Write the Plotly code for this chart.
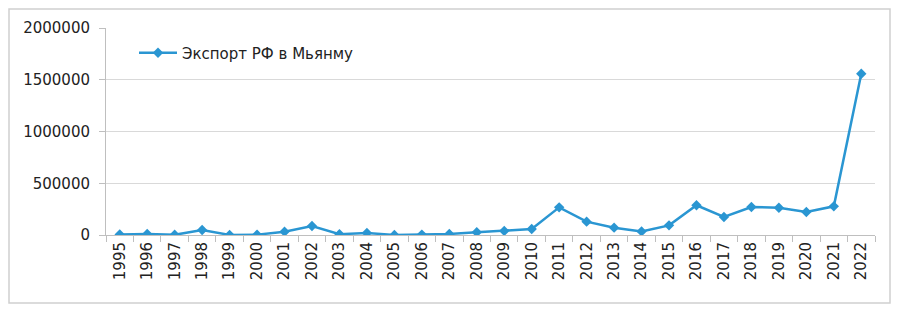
import plotly.graph_objects as go

years = [str(y) for y in range(1995, 2023)]
export_values = [5000, 10000, 2000, 48000, 1000, 3000, 32000, 87000, 8000, 19000,
                 1000, 4000, 10000, 26000, 39000, 58000, 267000, 129000, 71000, 35000,
                 93000, 287000, 174000, 270000, 264000, 222000, 277000, 1558000]
series_name = "Экспорт РФ в Мьянму"
y_ticks = [0, 500000, 1000000, 1500000, 2000000]

# page body has an 8px default margin; figure coordinates = page coordinates - 8
OFF = 8
W, H = 883, 297
L = 106 - OFF
T = 28 - OFF
plot_right = 875 - OFF
plot_bottom = 235 - OFF
R = W - plot_right
B = H - plot_bottom
pw, ph = W - L - R, H - T - B

def px_x(x):
    return (x - OFF - L) / pw

def px_y(y):
    return (plot_bottom - (y - OFF)) / ph

fig = go.Figure()
fig.add_trace(go.Scatter(
    x=years, y=export_values, name=series_name, mode="lines+markers",
    line=dict(color="#2a96d2", width=2.5),
    marker=dict(symbol="diamond", size=8, color="#2a96d2"),
))

fig.update_layout(
    width=W, height=H,
    margin=dict(l=L, r=R, t=T, b=B, autoexpand=False),
    paper_bgcolor="white", plot_bgcolor="white",
    font=dict(family="DejaVu Sans", size=15, color="#222222"),
    showlegend=True,
    legend=dict(x=px_x(134), y=px_y(53), xanchor="left", yanchor="middle",
                itemwidth=38,
                bgcolor="rgba(0,0,0,0)", font=dict(family="DejaVu Sans", size=15)),
    xaxis=dict(type="category", range=[-0.5, 27.5], tickangle=-90,
               showline=True, linecolor="#bfbfbf", linewidth=1,
               ticks="outside", ticklen=6, tickcolor="#bfbfbf", tickson="boundaries",
               showgrid=False, tickfont=dict(size=15)),
    yaxis=dict(range=[0, 2000000], tickvals=y_ticks, ticktext=[str(v) for v in y_ticks],
               showline=True, linecolor="#bfbfbf", linewidth=1,
               ticks="outside", ticklen=6, tickcolor="#bfbfbf", ticklabelstandoff=6,
               showgrid=True, gridcolor="#d9d9d9", gridwidth=1, zeroline=False,
               tickfont=dict(size=15)),
    shapes=[dict(type="rect", xref="paper", yref="paper",
                 x0=px_x(9), x1=px_x(890), y0=px_y(303), y1=px_y(9),
                 line=dict(color="#d0d0d0", width=1.5), fillcolor="rgba(0,0,0,0)", layer="below")],
)

fig.write_html("out.html")
